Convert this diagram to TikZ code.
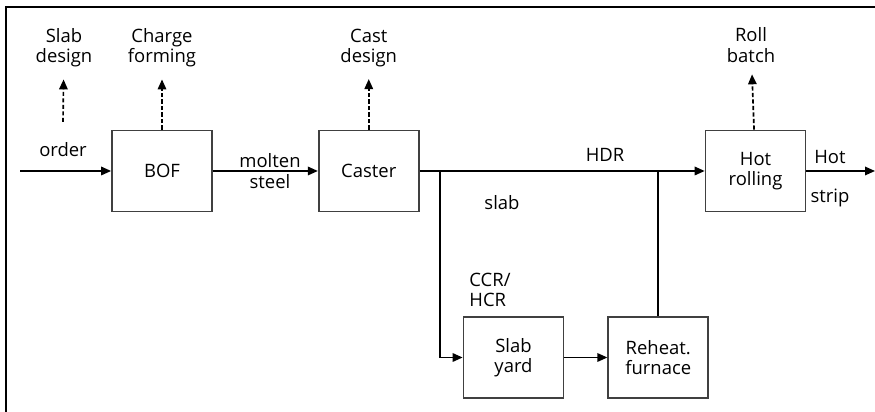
\documentclass[tikz,border=0pt]{standalone}
\usepackage{fontspec}
\setmainfont{Open Sans}
\usetikzlibrary{arrows.meta, positioning}

\begin{document}
\begin{tikzpicture}[
    node distance=2.1cm,
    procbox/.style={rectangle, draw=black!75, line width=1pt, minimum width=2cm,
                 minimum height=1.62cm, align=center, inner sep=2pt,
                 font=\fontsize{10.5}{11.5}\selectfont},
    lbl/.style={align=center, inner sep=1pt, font=\fontsize{10.5}{11.5}\selectfont},
    flow/.style={line width=0.95pt, -{Triangle[length=0.2cm, width=0.17cm]}},
    plan/.style={flow, dash pattern=on 2.4pt off 1.3pt, shorten >=0.2cm},
  ]
    \useasboundingbox (0,0) rectangle (17.5,8.24);
    \draw[line width=1.5pt] (0.12,0) -- (0.12,8.1) -- (17.5,8.1);

    \node[procbox] (bof) at (3.24,4.82) {BOF};
    \node[procbox, right=2.1cm of bof] (caster) {Caster};
    \node[procbox, right=5.7cm of caster] (hotroll) {Hot\\rolling};
    \node[procbox] (slabyard) at (10.27,1.09) {Slab\\yard};
    \node[procbox, right=0.86cm of slabyard] (reheat) {Reheat.\\furnace};

    \node[lbl] (slabdesign) at (1.28,7.28) {Slab\\design};
    \node[lbl] (chargeform) at (bof |- slabdesign) {Charge\\forming};
    \node[lbl] (castdesign) at (caster |- slabdesign) {Cast\\design};
    \node[lbl] (rollbatch) at (15.02,7.34) {Roll\\batch};

    \node[lbl] (order) at (1.26,5.24) {order};
    \node[lbl] (molten) at (5.4,4.82) {molten\\steel};
    \node[lbl] (hdr) at (12.1,5.14) {HDR};
    \node[lbl] (slab) at (10.04,4.18) {slab};
    \node[lbl] (hot) at (16.6,5.1) {Hot};
    \node[lbl] (strip) at (16.6,4.28) {strip};
    \node[lbl, align=left] (ccr) at (9.8,2.44) {CCR/\\HCR};

    \coordinate (orderin) at (0.4,4.82);
    \coordinate (stripout) at (17.5,4.82);
    \coordinate (split) at (8.8,4.82);
    \coordinate (merge) at (reheat.north |- hotroll.west);
    \coordinate (slabdfoot) at (1.26,5.8);

    \draw[flow] (orderin) -- (bof);
    \draw[flow] (bof) -- (caster);
    \draw[flow] (caster) -- (hotroll);
    \draw[flow] (hotroll) -- (stripout);
    \draw[flow] (split) |- (slabyard);
    \draw[flow] (slabyard) -- (reheat);
    \draw[line width=0.95pt] (reheat) -- (merge);

    \draw[plan] (slabdfoot) -- (slabdesign);
    \draw[plan] (bof) -- (chargeform);
    \draw[plan] (caster) -- (castdesign);
    \draw[plan] (hotroll) -- (rollbatch);
\end{tikzpicture}
\end{document}
